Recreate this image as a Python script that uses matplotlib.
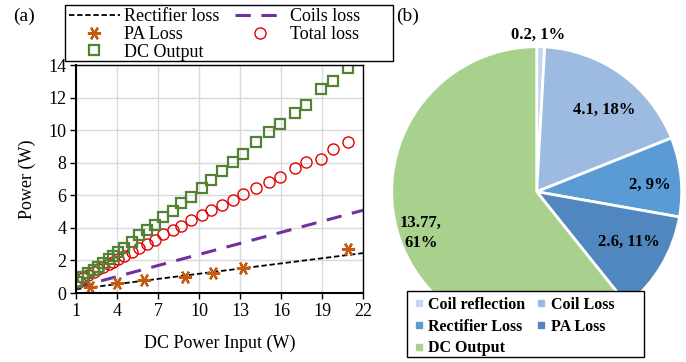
import matplotlib.pyplot as plt
from matplotlib.lines import Line2D
from matplotlib.patches import Rectangle

plt.rcParams['font.family'] = ['Liberation Serif', 'DejaVu Serif']

# (a) power budget vs DC input
dc_in = [1.1, 1.5, 1.9, 2.3, 2.6, 3.0, 3.4, 3.7, 4.1, 4.5, 5.1, 5.6, 6.2, 6.8, 7.4, 8.1,
         8.7, 9.4, 10.2, 10.9, 11.7, 12.5, 13.2, 14.2, 15.1, 15.9, 17.0, 17.8, 18.9, 19.8, 20.9]
dc_out = [0.69, 1.0, 1.21, 1.41, 1.62, 1.82, 2.07, 2.27, 2.54, 2.78, 3.11, 3.56, 3.87, 4.17,
          4.68, 5.03, 5.5, 5.87, 6.42, 6.94, 7.51, 8.06, 8.53, 9.25, 9.9, 10.37, 11.07, 11.56,
          12.5, 13.01, 13.79]
total_loss = [0.75, 0.95, 1.12, 1.3, 1.45, 1.62, 1.8, 1.93, 2.09, 2.27, 2.52, 2.75, 3.03, 3.24,
              3.6, 3.85, 4.14, 4.5, 4.81, 5.12, 5.42, 5.73, 6.08, 6.44, 6.79, 7.11, 7.66, 8.03,
              8.25, 8.82, 9.25]
pa_in = [2.0, 4.0, 6.0, 9.0, 11.0, 13.2, 20.9]
pa_loss = [0.35, 0.63, 0.8, 1.0, 1.25, 1.55, 2.7]
rect_x = [1, 22]
rect_loss = [0.23, 2.45]
coil_x = [1, 22]
coil_loss = [0.33, 5.08]

# (b) breakdown at 21 W input
pie_labels = ['Coil reflection', 'Coil Loss', 'Rectifier Loss', 'PA Loss', 'DC Output']
pie_vals = [0.2, 4.1, 2, 2.6, 13.77]
pie_colors = ['#C5D7EF', '#9DBBE0', '#5B9BD5', '#4F87BE', '#A9D18E']

W, H = 686, 362
fig = plt.figure(figsize=(W / 100, H / 100), dpi=100)

ax = fig.add_axes([76 / W, 1 - 293 / H, 287 / W, 228 / H])
ax.grid(True, color='#D9D9D9', lw=1)
ax.set_axisbelow(True)
h_rect, = ax.plot(rect_x, rect_loss, color='black', ls=(0, (3, 1.5)), lw=1.3)
h_coil, = ax.plot(coil_x, coil_loss, color='#7030A0', ls=(0, (5, 3.5)), lw=2.2)
h_pa, = ax.plot(pa_in, pa_loss, ls='none', marker=(6, 2, 30), ms=9.5, mew=1.6,
                color='#C55A11')
h_tot, = ax.plot(dc_in, total_loss, ls='none', marker='o', ms=8, mew=1, mfc='none',
                 color='#E00000')
h_dc, = ax.plot(dc_in, dc_out, ls='none', marker='s', ms=7.5, mew=1.6, mfc='none',
                color='#548235')
ax.set_xlim(1, 22)
ax.set_ylim(0, 14)
ax.set_xticks(range(1, 23, 3))
ax.set_yticks(range(0, 15, 2))
ax.tick_params(labelsize=13, length=4, width=1, color='black', pad=3)
for s in ['left', 'bottom']:
    ax.spines[s].set_linewidth(1.5)
for s in ['top', 'right']:
    ax.spines[s].set_linewidth(1)
ax.set_xlabel('DC Power Input (W)', fontsize=13, labelpad=11)
ax.set_ylabel('Power (W)', fontsize=13, labelpad=9)
fig.text(24 / W, 1 - 16 / H, '(a)', fontsize=14, va='center', ha='center')

leg = fig.legend([h_rect, h_pa, h_dc, h_coil, h_tot],
                 ['Rectifier loss', 'PA Loss', 'DC Output', 'Coils loss', 'Total loss'],
                 ncol=2, loc='upper left', bbox_to_anchor=(69 / W, 1 - 8 / H),
                 fontsize=13, frameon=False,
                 handlelength=2.8, handletextpad=0.25, columnspacing=0.85,
                 labelspacing=0.05, borderpad=0, borderaxespad=0)
fig.patches.append(Rectangle((65 / W, 1 - 61 / H), 328 / W, 56 / H, transform=fig.transFigure,
                             fill=False, edgecolor='black', lw=1))

# pie
r = 145
pax = fig.add_axes([(536.7 - r) / W, (H - 191.7 - r) / H, 2 * r / W, 2 * r / H])
total = sum(pie_vals)
wedges, _ = pax.pie(pie_vals, colors=pie_colors, startangle=90, counterclock=False,
                    wedgeprops=dict(edgecolor='white', linewidth=2))
pax.set_xlim(-1, 1)
pax.set_ylim(-1, 1)
pax.set_aspect('equal')
pax.axis('off')

pie_text = [f'{v:g}, {100 * v / total:.0f}%' for v in pie_vals]
pie_text[4] = pie_text[4].replace(' ', '\n')
pos = [(538, 35), (604, 110), (650, 185), (629, 242), (421, 233)]
for t, (px, py) in zip(pie_text, pos):
    fig.text(px / W, 1 - py / H, t, fontsize=12, fontweight='bold',
             ha='center', va='center', linespacing=1.35)

# legend box for the pie, drawn over the lower part of the wedges
fig.patches.append(Rectangle((407 / W, 1 - 357 / H), 237 / W, 66 / H, transform=fig.transFigure,
                             facecolor='white', edgecolor='black', lw=1, zorder=4))
pie_handles = [Line2D([], [], ls='none', marker='s', ms=5, color=c) for c in pie_colors]
order = [0, 2, 4, 1, 3]
leg2 = fig.legend([pie_handles[i] for i in order], [pie_labels[i] for i in order],
                  ncol=2, loc='upper left', bbox_to_anchor=(414 / W, 1 - 297 / H),
                  prop={'size': 11.5, 'weight': 'bold'}, frameon=False,
                  handlelength=0.6, handletextpad=0.3, columnspacing=0.7,
                  labelspacing=0.35, borderpad=0, borderaxespad=0)
leg2.set_zorder(5)
fig.text(408 / W, 1 - 16 / H, '(b)', fontsize=14, va='center', ha='center')

fig.savefig('out.png', dpi=100)
